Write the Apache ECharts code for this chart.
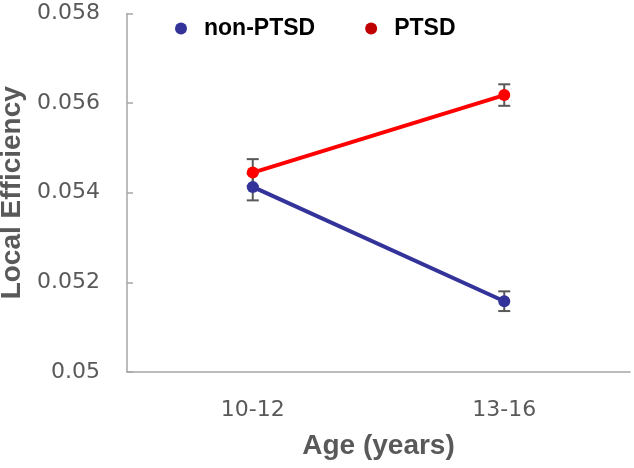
<!DOCTYPE html>
<html><head><meta charset="utf-8">
<script src="https://cdn.jsdelivr.net/npm/echarts@6/dist/echarts.min.js"></script>
<style>html,body{margin:0;padding:0;background:#fff}#c{width:634px;height:468px}</style>
</head><body><div id="c"></div>
<script>
var categories = ['10-12', '13-16'];
var nonPTSD = [0.05413, 0.05158];
var nonPTSDErr = [0.00030, 0.00022];
var PTSD = [0.05445, 0.05618];
var PTSDErr = [0.00030, 0.00024];
var yTicks = [0.05, 0.052, 0.054, 0.056, 0.058];

function errData(vals, errs) {
  return vals.map(function (v, i) { return [i, v - errs[i], v + errs[i]]; });
}
function renderErr(params, api) {
  var x = api.value(0);
  var lo = api.coord([x, api.value(1)]);
  var hi = api.coord([x, api.value(2)]);
  var hw = 6;
  var st = { stroke: '#595959', lineWidth: 2 };
  return {
    type: 'group',
    children: [
      { type: 'line', shape: { x1: lo[0], y1: lo[1], x2: hi[0], y2: hi[1] }, style: st },
      { type: 'line', shape: { x1: lo[0] - hw, y1: lo[1], x2: lo[0] + hw, y2: lo[1] }, style: st },
      { type: 'line', shape: { x1: hi[0] - hw, y1: hi[1], x2: hi[0] + hw, y2: hi[1] }, style: st }
    ]
  };
}

var chart = echarts.init(document.getElementById('c'));
chart.setOption({
  animation: false,
  backgroundColor: '#fff',
  grid: { left: 127, right: 4, top: 13.5, bottom: 96, outerBoundsMode: 'none', containLabel: false },
  legend: {
    top: 12, left: 170, itemGap: 50, itemWidth: 12, itemHeight: 12,
    textStyle: { fontFamily: 'Liberation Sans', fontWeight: 'bold', fontSize: 23, color: '#000', padding: [0, 0, 0, 12] },
    data: [
      { name: 'non-PTSD', icon: 'circle', itemStyle: { color: '#333399' } },
      { name: 'PTSD', icon: 'circle', itemStyle: { color: '#c00000' } }
    ]
  },
  xAxis: {
    type: 'category', data: categories, boundaryGap: true,
    axisLine: { lineStyle: { color: '#a6a6a6', width: 1.5 } },
    axisTick: { inside: true, length: 6, lineStyle: { color: '#a6a6a6', width: 1.5 } },
    axisLabel: { margin: 27, fontFamily: 'DejaVu Sans', fontSize: 22, color: '#595959' },
    name: 'Age (years)', nameLocation: 'middle', nameGap: 60,
    nameTextStyle: { fontFamily: 'Liberation Sans', fontWeight: 'bold', fontSize: 28, color: '#595959' }
  },
  yAxis: {
    type: 'value', min: yTicks[0], max: yTicks[yTicks.length - 1], interval: 0.002,
    axisLine: { show: true, lineStyle: { color: '#a6a6a6', width: 1.5 } },
    axisTick: { show: true, inside: true, length: 6, lineStyle: { color: '#a6a6a6', width: 1.5 } },
    splitLine: { show: false },
    axisLabel: { margin: 27, fontFamily: 'DejaVu Sans', fontSize: 22, color: '#595959' },
    name: 'Local Efficiency', nameLocation: 'middle', nameGap: 94,
    nameTextStyle: { fontFamily: 'Liberation Sans', fontWeight: 'bold', fontSize: 28, color: '#595959' }
  },
  series: [
    { type: 'custom', name: 'errN', renderItem: renderErr, data: errData(nonPTSD, nonPTSDErr), z: 1, silent: true },
    { type: 'custom', name: 'errP', renderItem: renderErr, data: errData(PTSD, PTSDErr), z: 1, silent: true },
    { type: 'line', name: 'non-PTSD', data: nonPTSD, color: '#333399', lineStyle: { width: 4, color: '#333399' },
      symbol: 'circle', symbolSize: 12, itemStyle: { color: '#333399' }, z: 3 },
    { type: 'line', name: 'PTSD', data: PTSD, color: '#ff0000', lineStyle: { width: 4, color: '#ff0000' },
      symbol: 'circle', symbolSize: 12, itemStyle: { color: '#ff0000' }, z: 3 }
  ]
});
</script></body></html>
